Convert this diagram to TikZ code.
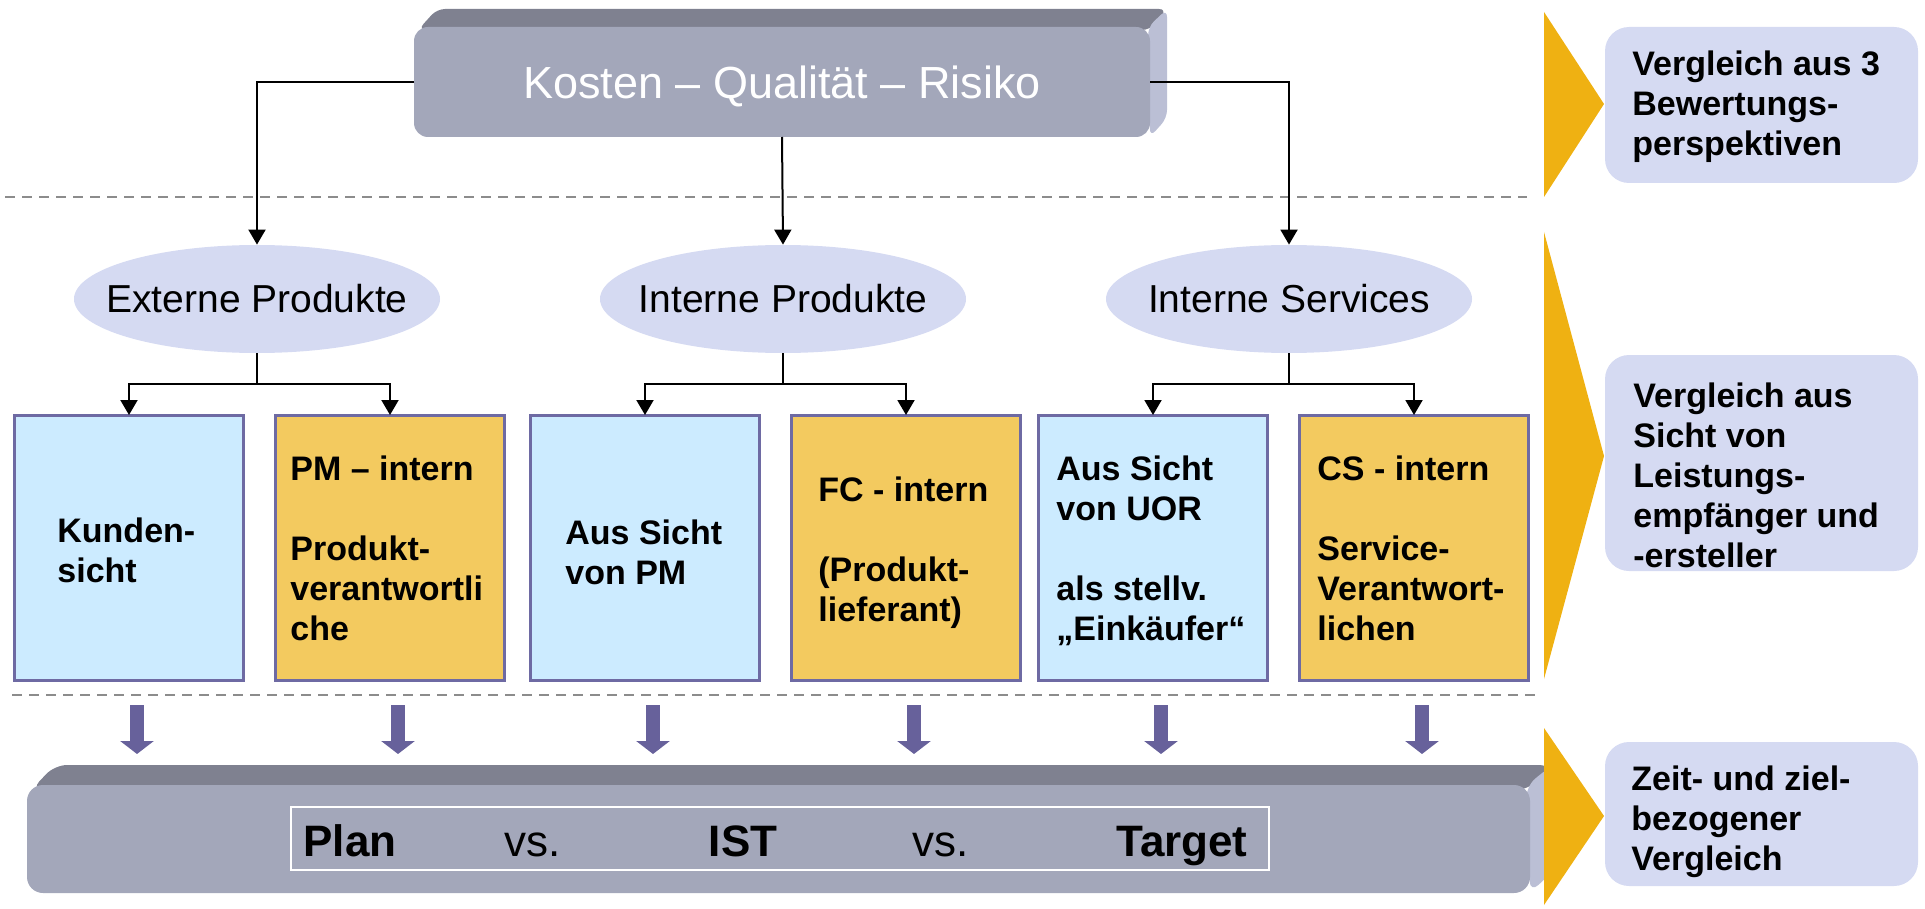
\documentclass[tikz,border=0pt]{standalone}
\usepackage{fontspec}
\setmainfont{Liberation Sans}
\usetikzlibrary{arrows.meta,calc,shapes.geometric}

\definecolor{barfront}{HTML}{A3A7BA}
\definecolor{bartop}{HTML}{7F8190}
\definecolor{barside}{HTML}{BBBFD5}
\definecolor{lav}{HTML}{D5DAF2}
\definecolor{skyfill}{HTML}{CCEBFF}
\definecolor{ambfill}{HTML}{F3CA5F}
\definecolor{frame}{HTML}{6E6AA3}
\definecolor{flow}{HTML}{67619B}
\definecolor{gold}{HTML}{EFB112}
\definecolor{sep}{HTML}{8C8C8C}

\begin{document}
\begin{tikzpicture}[x=0.5pt,y=-0.5pt,
  face/.style={rectangle, rounded corners=7pt, fill=barfront, outer sep=0pt, inner sep=0pt},
  oval/.style={ellipse, fill=lav, minimum width=183pt, minimum height=54pt, inner sep=0pt,
    font=\fontsize{19.5}{23}\selectfont},
  card/.style={rectangle, draw=frame, line width=1.5pt, minimum width=114.5pt,
    minimum height=132.5pt, inner sep=0pt, outer sep=0pt},
  cardtext/.style={anchor=north west, inner sep=0pt, align=left,
    font=\bfseries\fontsize{17}{20}\selectfont},
  note/.style={rectangle, rounded corners=12pt, fill=lav, minimum width=156.5pt,
    inner sep=0pt, outer sep=0pt},
  notetext/.style={anchor=north west, inner sep=0pt, align=left,
    font=\bfseries\fontsize{17}{20}\selectfont},
  plain/.style={draw=black, line width=1pt},
  link/.style={plain, -{Triangle[length=7.5pt,width=8.5pt]}},
  drop/.style={draw=flow, line width=7pt, line cap=butt,
    -{Triangle[length=6.5pt,width=16.5pt]}},
  guide/.style={draw=sep, line width=1pt, dash pattern=on 5pt off 3.5pt},
  wedge/.style={fill=gold},
  bigword/.style={anchor=base, inner sep=0pt, font=\bfseries\fontsize{22}{26}\selectfont},
  smallword/.style={anchor=base, inner sep=0pt, font=\fontsize{22}{26}\selectfont}
]
\useasboundingbox (0,0) rectangle (1925,909);

% separators
\draw[guide] (5,197) -- (1527,197);
\draw[guide] (12,695) -- (1535,695);

% top 3D block
\fill[bartop, rounded corners=4pt] (418,30) -- (437,9) -- (1167,9) -- (1150,30) -- cycle;
\fill[barside, rounded corners=4pt] (1148,27) -- (1167,9) -- (1167,118) -- (1150,137) -- cycle;
\node[face, minimum width=368pt, minimum height=55pt] (kqr) at (782,82) {};
\node[anchor=base, inner sep=0pt, text=white, font=\fontsize{22.5}{27}\selectfont]
  (kqrtext) at (782,99) {Kosten – Qualität – Risiko};

% perspective ellipses (text boxed at zero width so the ellipse keeps its set size)
\node[oval] (ext) at (257,299) {\makebox[0pt]{Externe Produkte}};
\node[oval] (inp) at (783,299) {\makebox[0pt]{Interne Produkte}};
\node[oval] (ins) at (1289,299) {\makebox[0pt]{Interne Services}};

% cards
\node[card, fill=skyfill] (c1) at (129,547.5) {};
\node[card, fill=ambfill] (c2) at (390,547.5) {};
\node[card, fill=skyfill] (c3) at (645,547.5) {};
\node[card, fill=ambfill] (c4) at (906,547.5) {};
\node[card, fill=skyfill] (c5) at (1153,547.5) {};
\node[card, fill=ambfill] (c6) at (1414,547.5) {};

\node[cardtext] (t1) at (57,517) {Kunden-\\sicht};
\node[cardtext] (t2) at (290,455) {PM – intern\\[20pt]Produkt-\\verantwortli\\che};
\node[cardtext] (t3) at (565,519) {Aus Sicht\\von PM};
\node[cardtext] (t4) at (818,476) {FC - intern\\[20pt](Produkt-\\lieferant)};
\node[cardtext] (t5) at (1056,455) {Aus Sicht\\von UOR\\[20pt]als stellv.\\„Einkäufer“};
\node[cardtext] (t6) at (1317,455) {CS - intern\\[20pt]Service-\\Verantwort-\\lichen};

% connectors from the top block
\draw[link] (kqr.west) -| (ext.north);
\draw[link] (kqr.south) -- (inp.north);
\draw[link] (kqr.east) -| (ins.north);

% connectors from the ellipses to the cards
\coordinate (j1) at ($(ext.south)+(0,31)$);
\coordinate (j2) at ($(inp.south)+(0,31)$);
\coordinate (j3) at ($(ins.south)+(0,31)$);
\draw[plain] (ext.south) -- (j1);
\draw[plain] (inp.south) -- (j2);
\draw[plain] (ins.south) -- (j3);
\draw[link] (j1) -| (c1.north);
\draw[link] (j1) -| (c2.north);
\draw[link] (j2) -| (c3.north);
\draw[link] (j2) -| (c4.north);
\draw[link] (j3) -| (c5.north);
\draw[link] (j3) -| (c6.north);

% bottom 3D bar
\fill[bartop, rounded corners=6pt] (31,790) -- (55,765) -- (1552,765) -- (1528,790) -- cycle;
\fill[barside, rounded corners=6pt] (1526,786) -- (1552,765) -- (1552,872) -- (1530,893) -- cycle;
\node[face, rounded corners=8pt, minimum width=751.5pt, minimum height=54pt] (bar) at (778.5,839) {};
\draw[white, line width=1pt] (291,807) rectangle (1269,870);
\node[bigword] (w1) at (350,856) {Plan};
\node[smallword] (w2) at (533,856) {vs.};
\node[bigword] (w3) at (743,856) {IST};
\node[smallword] (w4) at (941,856) {vs.};
\node[bigword] (w5) at (1182,856) {Target};

% drop arrows from the cards onto the bar
\foreach \c in {c1,c2,c3,c4,c5,c6}
  \draw[drop] ($(\c.south)+(8,25)$) -- ++(0,49);

% right-hand wedges
\fill[wedge] (1544,12) -- (1604,104) -- (1544,197) -- cycle;
\fill[wedge] (1544,232) -- (1604,456) -- (1544,679) -- cycle;
\fill[wedge] (1544,728) -- (1604,816) -- (1544,905) -- cycle;

% right-hand notes
\node[note, minimum height=78pt] (n1) at (1761.5,105) {};
\node[note, minimum height=108pt] (n2) at (1761.5,463) {};
\node[note, minimum height=72pt] (n3) at (1761.5,814) {};
\node[notetext] (nt1) at (1632,50) {Vergleich aus 3\\Bewertungs-\\perspektiven};
\node[notetext] (nt2) at (1633,382) {Vergleich aus\\Sicht von\\Leistungs-\\empfänger und\\-ersteller};
\node[notetext] (nt3) at (1631,765) {Zeit- und ziel-\\bezogener\\Vergleich};
\end{tikzpicture}
\end{document}
